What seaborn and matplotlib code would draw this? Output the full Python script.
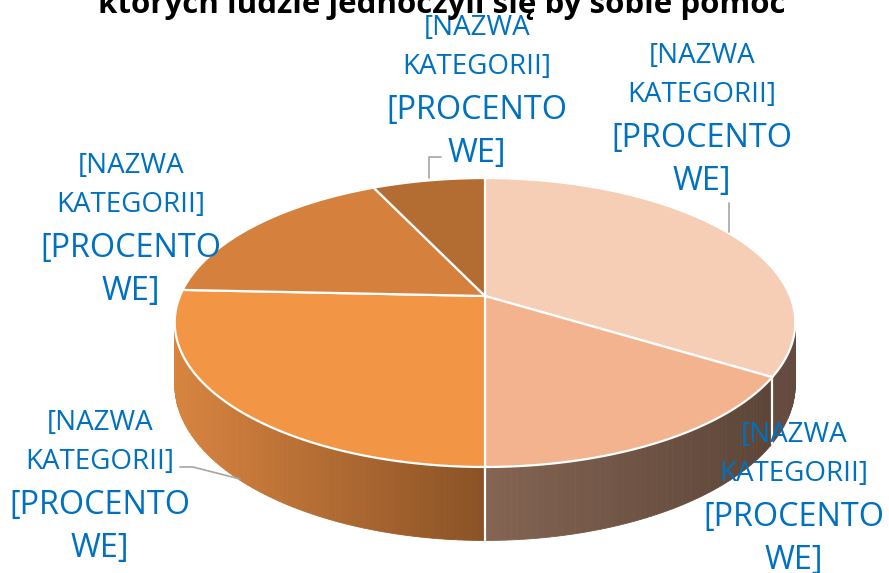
# ===============================================
# 3D pie chart - kategorie (szablon z etykietami)
# ===============================================

import numpy as np
import matplotlib
matplotlib.use("Agg")
import matplotlib.pyplot as plt
import seaborn as sns
from matplotlib.patches import Polygon

# ------------------ Data ------------------

title = "których ludzie jednoczyli się by sobie pomóc"

values = [33.8, 16.2, 25.7, 17.3, 7.0]

label_small = ["[NAZWA", "KATEGORII]"]
label_big = ["[PROCENTO", "WE]"]

# ------------------ Style ------------------

top_colors = ["#F6CDB5", "#F3B38E", "#F29545", "#D5803C", "#B36C32"]
side_colors = [("#6E5346", "#654B3F"), ("#846453", "#5C4537"),
               ("#D8843F", "#8A5226"), ("#A85F2A", "#7A4420"),
               ("#8E5526", "#6E4019")]

label_pos = [(702, 63), (794, 442), (100, 430), (131, 173), (477, 35)]
line_offsets = [0, 39, 84, 127]
leaders = [[(729, 203), (729, 232)], None,
           [(180, 467), (193, 467), (240, 479)], None,
           [(441, 157), (429, 157), (429, 178)]]

cx, cy = 485, 296
rx, ry, depth, f = 305, 139.6, 60, 5.45


def project(theta, h=0.0):
    u = np.sin(theta)
    v = -np.cos(theta)
    s = f / (f - v)
    return cx + rx * u * s, cy + (ry * v + h) * s


sns.set_theme(style="white")
plt.rcParams["font.family"] = ["Open Sans", "DejaVu Sans"]

fig = plt.figure(figsize=(8.89, 5.73), dpi=100)
ax = fig.add_axes([0, 0, 1, 1])
ax.set_xlim(0, 889)
ax.set_ylim(573, 0)
ax.axis("off")

edges = np.concatenate([[0], np.cumsum(values)]) / np.sum(values) * 2 * np.pi

# ----------------- Sides -----------------

quads = []
for i in range(len(values)):
    a0, a1 = edges[i], edges[i + 1]
    n = max(3, int(np.degrees(a1 - a0)) + 1)
    th = np.linspace(a0, a1, n)
    xs = project(th)[0]
    cmap = sns.blend_palette(side_colors[i], as_cmap=True)
    for t0, t1 in zip(th[:-1], th[1:]):
        p = [project(t0), project(t1), project(t1, depth), project(t0, depth)]
        xm = (p[0][0] + p[1][0]) / 2
        t = (xm - xs.min()) / (xs.max() - xs.min())
        key = -np.cos((t0 + t1) / 2)
        quads.append((key, p, cmap(t)))

for key, p, c in sorted(quads, key=lambda q: q[0]):
    ax.add_patch(Polygon(p, closed=True, facecolor=c, edgecolor=c, lw=0.6, zorder=1))

# ----------------- Top faces -----------------

for i in range(len(values)):
    th = np.linspace(edges[i], edges[i + 1], 200)
    rim = list(zip(*project(th)))
    ax.add_patch(Polygon([(cx, cy)] + rim, closed=True, facecolor=top_colors[i],
                         edgecolor="white", lw=1.6, zorder=3))

for a in edges:
    if np.pi / 2 < a < 3 * np.pi / 2:
        x0, y0 = project(a)
        x1, y1 = project(a, depth)
        ax.plot([x0, x1], [y0, y1], color="white", lw=1.6, zorder=2)

# ----------------- Labels -----------------

lines = label_small + label_big
sizes = [20, 20, 23.3, 23.3]
for i, (lx, ly) in enumerate(label_pos):
    for txt, off, fs in zip(lines, line_offsets, sizes):
        ax.text(lx, ly + off, txt, ha="center", va="baseline", fontsize=fs,
                color="#0070C0", zorder=5)
    if leaders[i] is not None:
        px, py = zip(*leaders[i])
        ax.plot(px, py, color="#A6A6A6", lw=1.2, zorder=4)

fig.text(442 / 889, 1 - 13 / 573, title, ha="center", va="baseline",
         fontsize=22.5, fontweight="bold", color="black")

plt.savefig("out.png", dpi=100)
